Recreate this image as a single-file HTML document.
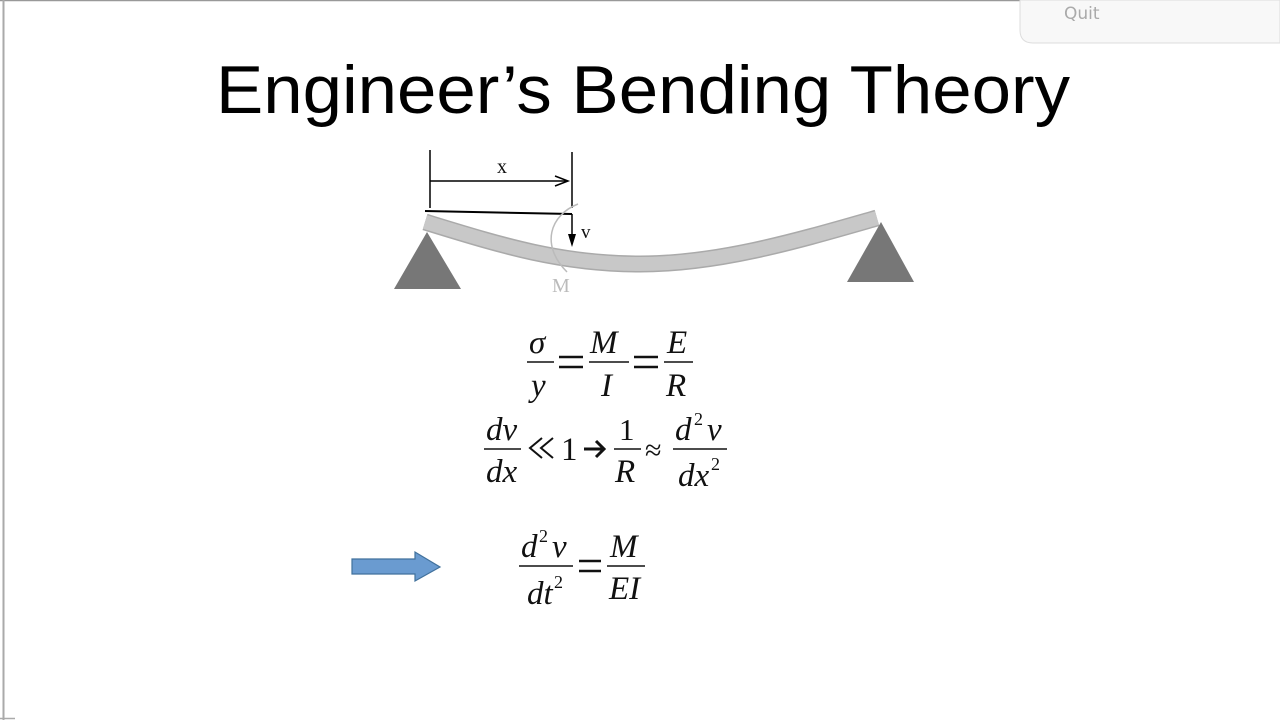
<!DOCTYPE html>
<html><head><meta charset="utf-8"><style>
html,body{margin:0;padding:0;background:#fff;}
svg{display:block;}
.m{font-family:"Liberation Serif",serif;font-style:italic;fill:#111;}
.u{font-family:"Liberation Serif",serif;fill:#111;}
</style></head><body>
<svg width="1280" height="720" viewBox="0 0 1280 720" xmlns="http://www.w3.org/2000/svg">
<rect width="1280" height="720" fill="#fff"/>
<line x1="0" y1="0.5" x2="1020" y2="0.5" stroke="#999" stroke-width="1.5"/>
<line x1="3.5" y1="0" x2="3.5" y2="720" stroke="#aaa" stroke-width="2"/>
<line x1="0" y1="718.5" x2="15" y2="718.5" stroke="#aaa" stroke-width="1.5"/>
<path d="M1020 0 V30 Q1020 43 1033 43 H1280 V0 Z" fill="#f8f8f8" stroke="#ddd"/>
<text x="1064" y="19" font-family="'DejaVu Sans',sans-serif" font-size="17" fill="#aaa">Quit</text>

<text x="216" y="113" font-family="'Liberation Sans',sans-serif" font-size="68" textLength="854" lengthAdjust="spacingAndGlyphs" fill="#000">Engineer’s Bending Theory</text>

<!-- beam -->
<path d="M425 222 C500 245 560 264 640 264 C720 264 800 240 877 218" fill="none" stroke="#aaa" stroke-width="17"/>
<path d="M425 222 C500 245 560 264 640 264 C720 264 800 240 877 218" fill="none" stroke="#c8c8c8" stroke-width="14"/>
<polygon points="427,232 394,289 461,289" fill="#777"/>
<polygon points="881,222 847,282 914,282" fill="#777"/>
<line x1="430" y1="150" x2="430" y2="208" stroke="#000" stroke-width="1.5"/>
<line x1="572" y1="152" x2="572" y2="208" stroke="#000" stroke-width="1.5"/>
<line x1="430" y1="181" x2="566" y2="181" stroke="#000" stroke-width="1.5"/>
<polyline points="555,176 568,181 555,186" fill="none" stroke="#000" stroke-width="1.5"/>
<text x="497" y="173" class="u" font-size="20">x</text>
<line x1="425" y1="211" x2="572" y2="214" stroke="#000" stroke-width="2"/>
<line x1="572" y1="214" x2="572" y2="244" stroke="#000" stroke-width="1.5"/>
<polygon points="568,234 576,234 572,247" fill="#000"/>
<text x="581" y="238" class="u" font-size="19">v</text>
<path d="M578 204 C550 215 540 245 567 272" fill="none" stroke="#bbb" stroke-width="1.5"/>
<text x="552" y="292" class="u" font-size="20" style="fill:#bbb">M</text>

<!-- eq1 -->
<text x="529" y="353" class="m" font-size="33">σ</text>
<line x1="527" y1="362" x2="554" y2="362" stroke="#111" stroke-width="1.5"/>
<text x="531" y="396" class="m" font-size="33">y</text>
<path d="M559 357 H583 M559 367 H583" stroke="#111" stroke-width="2.5"/>
<text x="590" y="353" class="m" font-size="33">M</text>
<line x1="589" y1="362" x2="629" y2="362" stroke="#111" stroke-width="1.5"/>
<text x="601" y="396" class="m" font-size="33">I</text>
<path d="M634 357 H658 M634 367 H658" stroke="#111" stroke-width="2.5"/>
<text x="667" y="353" class="m" font-size="33">E</text>
<line x1="664" y1="362" x2="693" y2="362" stroke="#111" stroke-width="1.5"/>
<text x="666" y="396" class="m" font-size="33">R</text>

<!-- eq2 -->
<text x="486" y="440" class="m" font-size="33">dv</text>
<line x1="484" y1="449" x2="521" y2="449" stroke="#111" stroke-width="1.5"/>
<text x="486" y="482" class="m" font-size="33">dx</text>
<path d="M542 438 L530 448 L542 458 M553 438 L541 448 L553 458" fill="none" stroke="#111" stroke-width="2"/>
<text x="561" y="460" class="u" font-size="33">1</text>
<path d="M584 449 H602 M596 441 L604 449 L596 457" fill="none" stroke="#111" stroke-width="3"/>
<text x="619" y="440" class="u" font-size="31">1</text>
<line x1="614" y1="449" x2="641" y2="449" stroke="#111" stroke-width="1.5"/>
<text x="615" y="482" class="m" font-size="33">R</text>
<text x="645" y="460" class="u" font-size="30">≈</text>
<text x="675" y="440" class="m" font-size="33">d</text>
<text x="694" y="425" class="u" font-size="18">2</text>
<text x="707" y="440" class="m" font-size="33">v</text>
<line x1="673" y1="449" x2="727" y2="449" stroke="#111" stroke-width="1.5"/>
<text x="678" y="486" class="m" font-size="33">dx</text>
<text x="711" y="470" class="u" font-size="18">2</text>

<!-- eq3 -->
<polygon points="352,559 415,559 415,552 440,567 415,581 415,574 352,574" fill="#6a9bd0" stroke="#41719c" stroke-width="1.2"/>
<text x="521" y="557" class="m" font-size="33">d</text>
<text x="539" y="542" class="u" font-size="18">2</text>
<text x="552" y="557" class="m" font-size="33">v</text>
<line x1="519" y1="566" x2="573" y2="566" stroke="#111" stroke-width="1.5"/>
<text x="527" y="604" class="m" font-size="33">dt</text>
<text x="554" y="588" class="u" font-size="18">2</text>
<path d="M579 561 H601 M579 571 H601" stroke="#111" stroke-width="2.5"/>
<text x="610" y="557" class="m" font-size="33">M</text>
<line x1="607" y1="566" x2="645" y2="566" stroke="#111" stroke-width="1.5"/>
<text x="609" y="599" class="m" font-size="33">EI</text>
</svg>
</body></html>
